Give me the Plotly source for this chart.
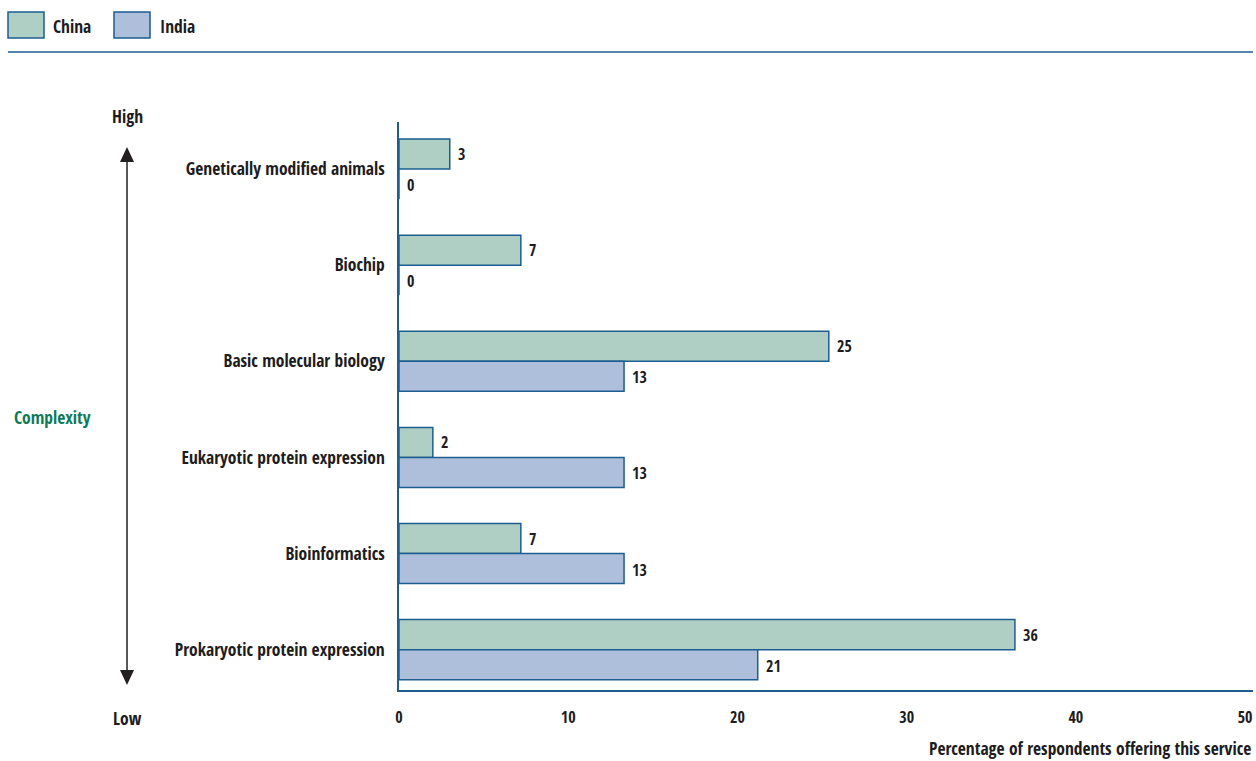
import plotly.graph_objects as go

categories = ["Genetically modified animals", "Biochip", "Basic molecular biology",
              "Eukaryotic protein expression", "Bioinformatics", "Prokaryotic protein expression"]
china = [3.0, 7.2, 25.4, 2.0, 7.2, 36.4]
india = [0.0, 0.0, 13.3, 13.3, 13.3, 21.2]
x_ticks = [0, 10, 20, 30, 40, 50]

W, H = 1256, 761
L, R, T, B = 399, 1253, 122, 690
FONT = "Open Sans Condensed, Roboto Condensed, sans-serif"
TXT = "#1e1c1d"
EDGE = "#1d5d91"
FS = 17.5
FV = 16

def px(x):
    return (x - L) / (R - L)

def py(y):
    return (B - y) / (B - T)

fig = go.Figure()
fig.add_trace(go.Bar(y=categories, x=china, name="China", orientation="h",
                     marker=dict(color="#afcfc4", line=dict(color=EDGE, width=1.5))))
fig.add_trace(go.Bar(y=categories, x=india, name="India", orientation="h",
                     marker=dict(color="#adbfdb", line=dict(color=EDGE, width=1.5))))

shapes = []
annotations = []
# value labels
for vals, shift in [(china, 15), (india, -16)]:
    for c, v in zip(categories, vals):
        annotations.append(dict(x=v, y=c, xref="x", yref="y", text="<b>%d</b>" % round(v), showarrow=False,
                                xanchor="left", yanchor="middle", xshift=6, yshift=shift,
                                font=dict(family=FONT, size=FV, color=TXT)))
# legend
for x0, x1, col, label, tx in [(8, 44, "#afcfc4", "China", 51), (114, 150, "#adbfdb", "India", 158)]:
    shapes.append(dict(type="rect", xref="paper", yref="paper", x0=px(x0), x1=px(x1),
                       y0=py(38), y1=py(12), fillcolor=col, line=dict(color=EDGE, width=1.5)))
    annotations.append(dict(xref="paper", yref="paper", x=px(tx), y=py(26), text="<b>%s</b>" % label,
                            showarrow=False, xanchor="left", yanchor="middle",
                            font=dict(family=FONT, size=FS, color=TXT)))
shapes.append(dict(type="line", xref="paper", yref="paper", x0=px(8), x1=px(1253), y0=py(52), y1=py(52),
                   line=dict(color=EDGE, width=1.5)))
# complexity arrow
shapes.append(dict(type="line", xref="paper", yref="paper", x0=px(127), x1=px(127), y0=py(158), y1=py(672),
                   line=dict(color="#231f20", width=1.5)))
def tri(xc, ytip, ybase, hw):
    return "M %f %f L %f %f L %f %f Z" % (px(xc), py(ytip), px(xc - hw), py(ybase), px(xc + hw), py(ybase))
shapes.append(dict(type="path", xref="paper", yref="paper", path=tri(127, 147, 162, 7),
                   fillcolor="#231f20", line=dict(width=0)))
shapes.append(dict(type="path", xref="paper", yref="paper", path=tri(127, 685, 670, 7),
                   fillcolor="#231f20", line=dict(width=0)))
annotations.append(dict(xref="paper", yref="paper", x=px(127), y=py(116), text="<b>High</b>", showarrow=False,
                        xanchor="center", yanchor="middle", font=dict(family=FONT, size=FS, color=TXT)))
annotations.append(dict(xref="paper", yref="paper", x=px(127), y=py(718), text="<b>Low</b>", showarrow=False,
                        xanchor="center", yanchor="middle", font=dict(family=FONT, size=FS, color=TXT)))
annotations.append(dict(xref="paper", yref="paper", x=px(52), y=py(417), text="<b>Complexity</b>", showarrow=False,
                        xanchor="center", yanchor="middle", font=dict(family=FONT, size=FS, color="#0e7a5a")))
annotations.append(dict(xref="paper", yref="paper", x=1, y=py(748),
                        text="<b>Percentage of respondents offering this service</b>", showarrow=False,
                        xanchor="right", yanchor="middle", font=dict(family=FONT, size=FS, color=TXT)))

fig.update_layout(
    width=W, height=H, margin=dict(l=L, r=W - R, t=T, b=H - B),
    paper_bgcolor="white", plot_bgcolor="white",
    barmode="group", bargap=0.375, bargroupgap=0,
    showlegend=False, shapes=shapes, annotations=annotations,
    font=dict(family=FONT, size=FS, color=TXT),
    xaxis=dict(range=[0, 50.47], tickvals=x_ticks, ticktext=["<b>%d</b>" % v for v in x_ticks],
               showgrid=False, zeroline=False, showline=True, linecolor=EDGE, linewidth=1.5,
               ticks="", ticklabelstandoff=12, tickfont=dict(family=FONT, size=FV, color=TXT)),
    yaxis=dict(range=[5.42, -0.49], tickvals=categories, ticktext=["<b>%s</b>" % c for c in categories],
               showgrid=False, zeroline=False, showline=True, linecolor=EDGE, linewidth=1.5,
               ticks="", ticklabelstandoff=9, tickfont=dict(family=FONT, size=FS, color=TXT)),
)

fig.write_html("out.html")
